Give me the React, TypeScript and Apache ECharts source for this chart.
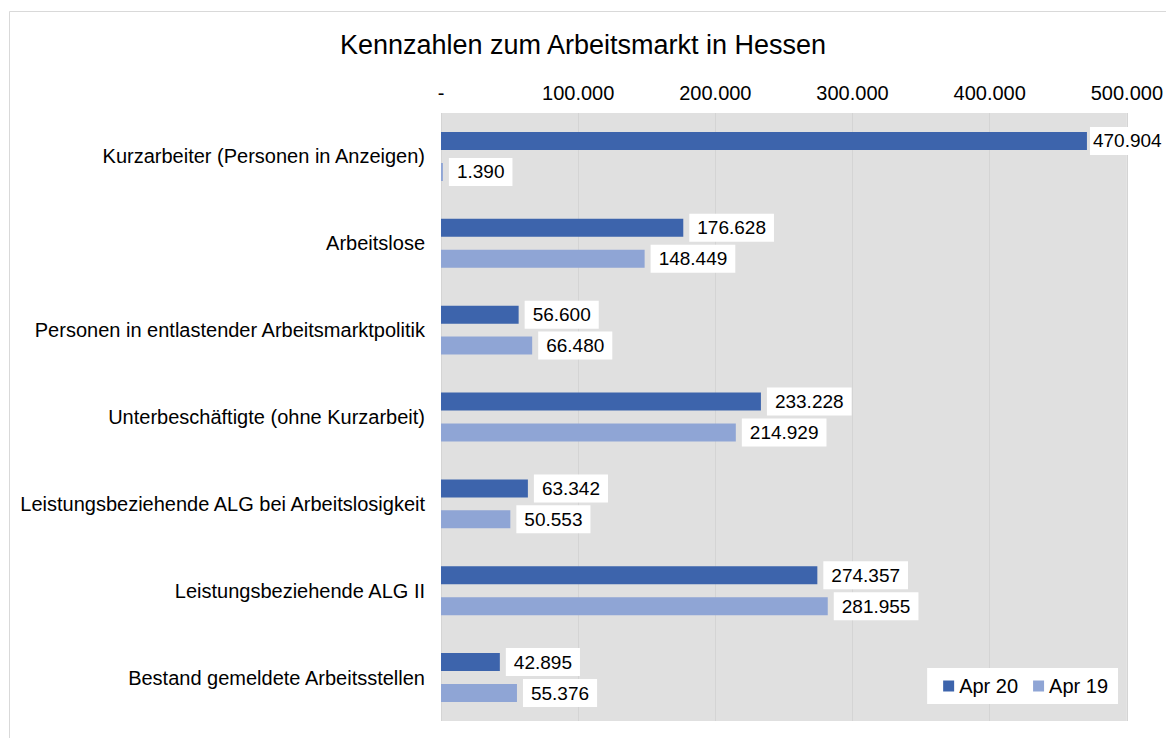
import React, { useEffect, useRef } from "react";
import * as echarts from "echarts";

const categories = [
  "Kurzarbeiter (Personen in Anzeigen)",
  "Arbeitslose",
  "Personen in entlastender Arbeitsmarktpolitik",
  "Unterbeschäftigte (ohne Kurzarbeit)",
  "Leistungsbeziehende ALG bei Arbeitslosigkeit",
  "Leistungsbeziehende ALG II",
  "Bestand gemeldete Arbeitsstellen",
];
const apr20 = [470904, 176628, 56600, 233228, 63342, 274357, 42895];
const apr19 = [1390, 148449, 66480, 214929, 50553, 281955, 55376];
const seriesNames = ["Apr 20", "Apr 19"];
const titleText = "Kennzahlen zum Arbeitsmarkt in Hessen";

const fmt = (v: number) =>
  v === 0 ? "-" : String(Math.round(v)).replace(/\B(?=(\d{3})+(?!\d))/g, ".");

const FONT = "'Liberation Sans', Arial, sans-serif";

export default function App() {
  const ref = useRef<HTMLDivElement>(null);
  useEffect(() => {
    if (!ref.current) return;
    const chart = echarts.init(ref.current, undefined, { renderer: "svg" });
    const label = {
      show: true,
      position: "right",
      distance: 6,
      backgroundColor: "#ffffff",
      padding: [5, 8, 4, 8],
      fontSize: 19,
      fontFamily: FONT,
      color: "#000",
      formatter: (p: any) => fmt(p.value),
    };
    // the longest bar's label is squeezed against the chart edge, as in the reference
    const toItems = (vals: number[]) =>
      vals.map((v) =>
        v > 450000
          ? { value: v, label: { distance: 3, padding: [5, 4, 4, 3] } }
          : v
      );
    chart.setOption({
      animation: false,
      backgroundColor: "#ffffff",
      textStyle: { fontFamily: FONT },
      title: {
        text: titleText,
        left: "center",
        top: 31,
        padding: 0,
        textStyle: { fontSize: 27, fontWeight: "normal", color: "#000", fontFamily: FONT },
      },
      graphic: [
        {
          type: "rect",
          shape: { x: 9.5, y: 11.5, width: 1300, height: 900 },
          style: { fill: "none", stroke: "#d9d9d9", lineWidth: 1 },
          silent: true,
        },
      ],
      legend: {
        data: seriesNames,
        right: 48,
        top: 668,
        backgroundColor: "#ffffff",
        padding: [8, 10, 8, 16],
        itemWidth: 11,
        itemHeight: 11,
        itemGap: 15,
        icon: "rect",
        textStyle: { fontSize: 20, color: "#000", fontFamily: FONT },
      },
      grid: {
        left: 441,
        right: 38,
        top: 113,
        bottom: 17,
        show: true,
        backgroundColor: "#e0e0e0",
        borderWidth: 0,
      },
      xAxis: {
        type: "value",
        position: "top",
        min: 0,
        max: 500000,
        interval: 100000,
        axisLine: { show: false },
        axisTick: { show: false },
        splitLine: { show: true, lineStyle: { color: "#d4d4d4", width: 1 } },
        axisLabel: {
          fontSize: 20,
          color: "#000",
          margin: 10,
          fontFamily: FONT,
          formatter: (v: number) => fmt(v),
        },
      },
      yAxis: {
        type: "category",
        inverse: true,
        data: categories,
        axisLine: { show: false },
        axisTick: { show: false },
        axisLabel: { fontSize: 20, color: "#000", margin: 16, fontFamily: FONT },
      },
      series: [
        {
          name: seriesNames[0],
          type: "bar",
          data: toItems(apr20),
          barWidth: 18,
          barGap: "72%",
          itemStyle: { color: "#3d64ac" },
          label,
        },
        {
          name: seriesNames[1],
          type: "bar",
          data: toItems(apr19),
          barWidth: 18,
          barGap: "72%",
          itemStyle: { color: "#8fa5d5" },
          label,
        },
      ],
    });
    return () => chart.dispose();
  }, []);
  return (
    <div
      ref={ref}
      style={{ position: "fixed", left: 0, top: 0, width: 1166, height: 738 }}
    />
  );
}
